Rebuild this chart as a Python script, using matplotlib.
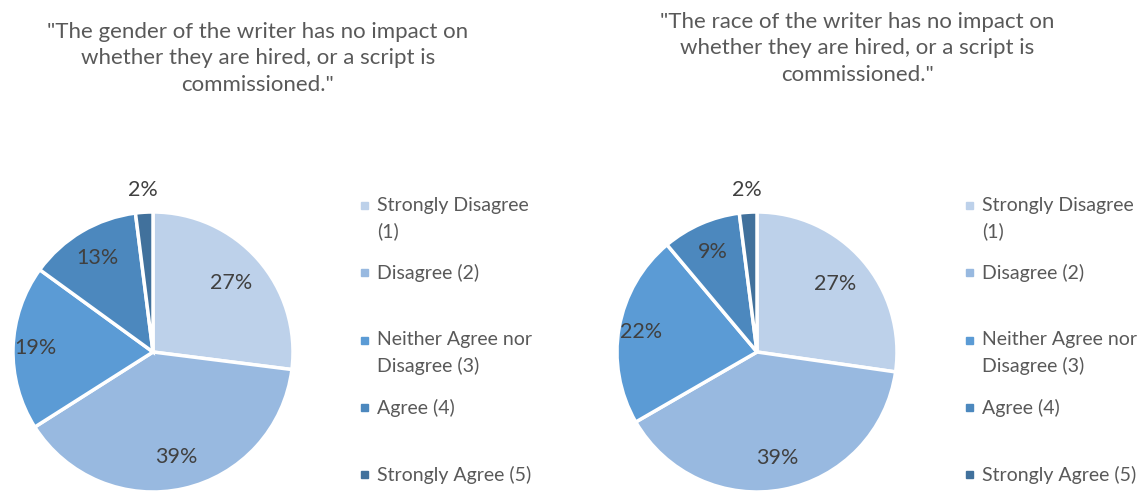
import matplotlib
matplotlib.use('Agg')
import matplotlib.pyplot as plt
import matplotlib.patches as mpatches
import numpy as np

plt.rcParams['font.family'] = ['Lato', 'DejaVu Sans']

# 数据
categories = ["Strongly Disagree\n(1)", "Disagree (2)", "Neither Agree nor\nDisagree (3)",
              "Agree (4)", "Strongly Agree (5)"]
gender_values = [27, 39, 19, 13, 2]
race_values = [27, 39, 22, 9, 2]
titles = ['"The gender of the writer has no impact on\nwhether they are hired, or a script is\ncommissioned."',
          '"The race of the writer has no impact on\nwhether they are hired, or a script is\ncommissioned."']

colors = ["#BDD1EA", "#98B9E0", "#5B9BD5", "#4C88BE", "#41719C"]
label_dist = [0.74, 0.77, 0.84, 0.78, 1.16]

W, H = 1145, 495
fig = plt.figure(figsize=(W / 100, H / 100), dpi=100)


def px(x, y):
    return x / W, 1 - y / H


def draw_pie(values, cx, cy, r, title, tx, ty, lx, ly):
    # 饼图
    ax = fig.add_axes([(cx - r) / W, 1 - (cy + r) / H, 2 * r / W, 2 * r / H])
    wedges, _ = ax.pie(values, colors=colors, startangle=90, counterclock=False,
                       wedgeprops=dict(edgecolor="white", linewidth=2.5))
    ax.set_xlim(-1, 1)
    ax.set_ylim(-1, 1)
    ax.axis("off")
    for w, v, d in zip(wedges, values, label_dist):
        ang = np.deg2rad((w.theta1 + w.theta2) / 2)
        ax.text(d * np.cos(ang), d * np.sin(ang), f"{v}%", ha="center", va="center",
                fontsize=15.5, color="#404040", clip_on=False)

    # 标题
    fig.text(*px(tx, ty), title, ha="center", va="top", fontsize=16,
             color="#595959", linespacing=1.4)

    # 图例
    for i, (c, lab) in enumerate(zip(colors, categories)):
        y = ly + i * 67.25
        fig.add_artist(mpatches.Rectangle(px(lx, y + 4), 7 / W, 7 / H, color=c,
                                          transform=fig.transFigure))
        fig.text(*px(lx + 16, y - 8), lab, ha="left", va="top", fontsize=14,
                 color="#595959", linespacing=1.55)


draw_pie(gender_values, 153, 352, 140, titles[0], 258, 22, 361, 205)
draw_pie(race_values, 757, 352, 140, titles[1], 857, 12, 966, 205)

plt.savefig("out.png", dpi=100)
plt.close()
